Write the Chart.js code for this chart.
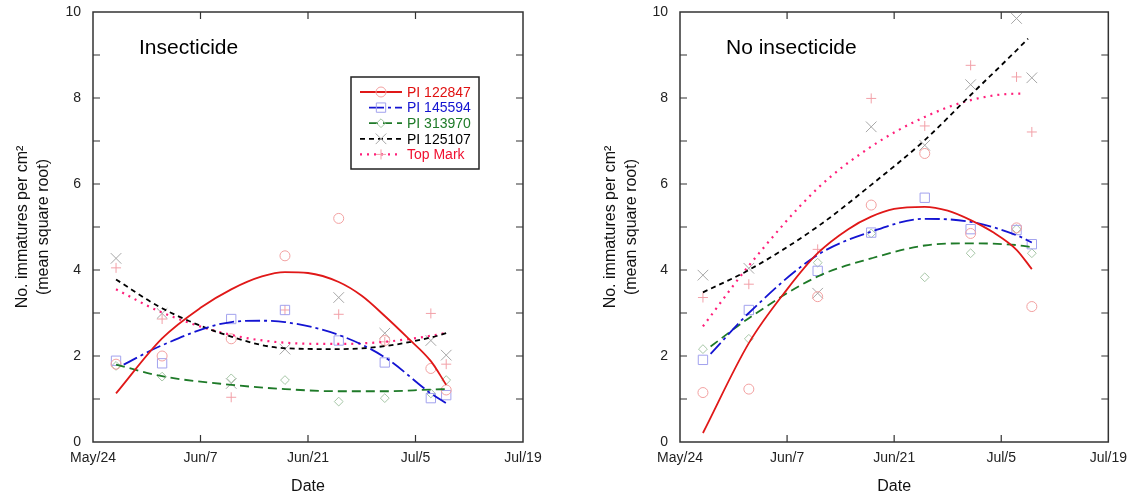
<!DOCTYPE html>
<html>
<head>
<meta charset="utf-8">
<script src="https://cdn.jsdelivr.net/npm/chart.js@4.4.1/dist/chart.umd.min.js"></script>
<style>
  html, body { margin: 0; padding: 0; background: #fff; }
  #wrap { position: relative; width: 1135px; height: 496px; }
  .panel { position: absolute; top: 0; height: 496px; }
  #left { left: 0; width: 567px; }
  #right { left: 567px; width: 568px; }
</style>
</head>
<body>
<div id="wrap">
  <div class="panel" id="left"><canvas id="chartIns"></canvas></div>
  <div class="panel" id="right"><canvas id="chartNoIns"></canvas></div>
</div>
<script>
// ==========================================
// 1. DATA (days after May/24, mean square root counts)
// ==========================================
const xTickLabels = ['May/24', 'Jun/7', 'Jun/21', 'Jul/5', 'Jul/19'];
const yTickLabels = ['0', '2', '4', '6', '8', '10'];
const seriesNames = ['PI 122847', 'PI 145594', 'PI 313970', 'PI 125107', 'Top Mark'];
const sampleDays = [3, 9, 18, 25, 32, 38, 44, 46];

// Insecticide - observed
const insPI122847 = [1.81, 2.00, 2.40, 4.33, 5.20, 2.36, 1.71, 1.21];
const insPI145594 = [1.89, 1.83, 2.86, 3.07, 2.36, 1.85, 1.02, 1.09];
const insPI313970 = [1.77, 1.52, 1.48, 1.44, 0.94, 1.02, 1.13, 1.44];
const insPI125107 = [4.27, 2.99, 1.36, 2.16, 3.36, 2.53, 2.36, 2.02];
const insTopMark = [4.05, 2.86, 1.04, 3.07, 2.97, 2.33, 2.99, 1.81];

// Insecticide - fitted curves
const insFitX = [3, 9, 18, 25, 32, 38, 44, 46];
const insFitRedX = [3, 9, 14, 18, 22, 25, 28, 32, 35, 38, 41, 44, 46];
const insFitBlueX = [4, 9, 18, 22, 25, 32, 38, 44, 46];
const insFit122847 = [1.13, 2.41, 3.12, 3.55, 3.85, 3.95, 3.93, 3.72, 3.40, 2.93, 2.42, 1.88, 1.33];
const insFit145594 = [1.80, 2.25, 2.79, 2.82, 2.79, 2.49, 1.97, 1.13, 0.90];
const insFit313970 = [1.80, 1.53, 1.33, 1.23, 1.18, 1.18, 1.22, 1.23];
const insFit125107 = [3.78, 3.11, 2.45, 2.18, 2.16, 2.23, 2.43, 2.53];
const insFitTopMark = [3.55, 3.01, 2.49, 2.31, 2.28, 2.33, 2.47, 2.54];

// No insecticide - observed
const noPI122847 = [1.15, 1.23, 3.38, 5.51, 6.71, 4.85, 4.98, 3.15];
const noPI145594 = [1.91, 3.07, 3.98, 4.87, 5.68, 4.95, 4.93, 4.60];
const noPI313970 = [2.16, 2.40, 4.17, 4.85, 3.83, 4.39, 4.95, 4.39];
const noPI125107 = [3.88, 4.04, 3.46, 7.33, 6.90, 8.31, 9.85, 8.47];
const noTopMark = [3.36, 3.67, 4.48, 7.99, 7.35, 8.76, 8.49, 7.21];

// No insecticide - fitted curves
const noFitRedX = [3, 9, 14, 18, 22, 25, 28, 32, 35, 38, 41, 44, 46];
const noFitLateX = [4, 9, 18, 25, 32, 38, 44, 46];
const noFitBlackX = [3, 9, 18, 25, 32, 38, 44, 45.5];
const noFitPinkX = [3, 9, 18, 25, 32, 38, 44, 45];
const noFit122847 = [0.21, 2.30, 3.55, 4.39, 4.95, 5.24, 5.42, 5.47, 5.38, 5.16, 4.87, 4.47, 4.02];
const noFit145594 = [2.05, 3.00, 4.35, 4.89, 5.19, 5.12, 4.81, 4.64];
const noFit313970 = [2.22, 2.88, 3.85, 4.27, 4.57, 4.62, 4.58, 4.53];
const noFit125107 = [3.48, 4.00, 5.01, 5.98, 7.02, 8.07, 9.11, 9.38];
const noFitTopMark = [2.69, 4.10, 5.90, 6.87, 7.56, 7.95, 8.10, 8.10];

// ==========================================
// 2. STYLES
// ==========================================
const FONT = '"Liberation Sans", Arial, sans-serif';
const lineColors = ['#e01818', '#1414d2', '#1e7a28', '#000000', '#ff1f7a'];
const markerColors = ['#f2a0a0', '#a2a2ee', '#a6c6a6', '#a6a6a6', '#f2a0a8'];
const textColors = ['#e01010', '#1414d0', '#1e7a28', '#000000', '#f01030'];
const pointStyles = ['circle', 'rect', 'rectRot', 'crossRot', 'cross'];
const pointRadii = [5, 6.6, 4.4, 7.5, 5];
const dashes = [[], [15, 4, 3, 4], [9, 5], [5, 4], [2, 5]];

const toPts = (xs, ys) => xs.map((x, i) => ({ x: x, y: ys[i] }));

function buildDatasets(observed, fits) {
  const sets = [];
  fits.forEach((f, i) => {
    sets.push({
      label: seriesNames[i] + ' fit',
      data: toPts(f[0], f[1]),
      showLine: true,
      borderColor: lineColors[i],
      borderWidth: i === 4 ? 2.2 : 1.8,
      borderDash: dashes[i],
      pointRadius: 0,
      cubicInterpolationMode: 'monotone',
      order: 0
    });
  });
  observed.forEach((obs, i) => {
    sets.push({
      label: seriesNames[i],
      data: toPts(sampleDays, obs),
      showLine: false,
      pointStyle: pointStyles[i],
      pointRadius: pointRadii[i],
      pointBorderColor: markerColors[i],
      pointBackgroundColor: 'rgba(0,0,0,0)',
      pointBorderWidth: 1,
      order: 1
    });
  });
  return sets;
}

// ==========================================
// 3. PLUGIN: frame, inner ticks, panel label, legend
// ==========================================
const framePlugin = {
  id: 'frame',
  afterDraw(chart, args, opts) {
    const ctx = chart.ctx;
    const ca = chart.chartArea;
    const xs = chart.scales.x, ys = chart.scales.y;
    ctx.save();
    ctx.strokeStyle = '#333';
    ctx.lineWidth = 1.5;
    ctx.strokeRect(ca.left, ca.top, ca.right - ca.left, ca.bottom - ca.top);

    // inner tick marks
    ctx.lineWidth = 1.2;
    ctx.beginPath();
    for (let v = 1; v < 10; v++) {
      const py = ys.getPixelForValue(v);
      ctx.moveTo(ca.left, py); ctx.lineTo(ca.left + 7, py);
      ctx.moveTo(ca.right, py); ctx.lineTo(ca.right - 7, py);
    }
    for (let d = 14; d < 56; d += 14) {
      const px = xs.getPixelForValue(d);
      ctx.moveTo(px, ca.bottom); ctx.lineTo(px, ca.bottom - 7);
      ctx.moveTo(px, ca.top); ctx.lineTo(px, ca.top + 7);
    }
    ctx.stroke();

    // panel label
    ctx.fillStyle = '#000';
    ctx.font = '21px ' + FONT;
    ctx.textBaseline = 'alphabetic';
    ctx.textAlign = 'left';
    ctx.fillText(opts.title, ca.left + opts.titleDx, ca.top + 42);

    // legend box
    if (opts.legend) {
      const bx = ca.left + 258, by = ca.top + 65;
      ctx.lineWidth = 1.5;
      ctx.strokeStyle = '#222';
      ctx.strokeRect(bx, by, 128, 92);
      ctx.font = '14px ' + FONT;
      ctx.textBaseline = 'middle';
      seriesNames.forEach((name, i) => {
        const ry = by + 15 + i * 15.6;
        ctx.save();
        ctx.strokeStyle = lineColors[i];
        ctx.lineWidth = i === 4 ? 2.2 : 1.8;
        ctx.setLineDash(dashes[i]);
        ctx.beginPath();
        ctx.moveTo(bx + (i === 1 || i === 2 ? 18 : 9), ry);
        ctx.lineTo(bx + 51, ry);
        ctx.stroke();
        ctx.restore();
        ctx.save();
        ctx.strokeStyle = markerColors[i];
        ctx.fillStyle = 'rgba(0,0,0,0)';
        ctx.lineWidth = 1;
        Chart.helpers.drawPoint(ctx, { pointStyle: pointStyles[i], radius: pointRadii[i], borderWidth: 1, rotation: 0 }, bx + 30, ry);
        ctx.restore();
        ctx.fillStyle = textColors[i];
        ctx.fillText(name, bx + 56, ry + 1);
      });
    }
    ctx.restore();
  }
};

// ==========================================
// 4. CHART FACTORY
// ==========================================
function makeChart(canvasId, datasets, cfg) {
  return new Chart(document.getElementById(canvasId), {
    type: 'scatter',
    data: { datasets: datasets },
    plugins: [framePlugin],
    options: {
      responsive: true,
      maintainAspectRatio: false,
      animation: false,
      layout: { padding: { top: 12, right: cfg.rightPad, left: 0, bottom: 0 } },
      plugins: {
        legend: { display: false },
        tooltip: { enabled: false },
        frame: { title: cfg.title, titleDx: cfg.titleDx, legend: cfg.legend }
      },
      scales: {
        x: {
          type: 'linear',
          min: 0, max: 56,
          grid: { display: false, drawTicks: false },
          border: { display: false },
          afterFit: (s) => { s.height = 54; },
          ticks: {
            stepSize: 14,
            padding: 8,
            color: '#222',
            font: { family: FONT, size: 14 },
            callback: (v) => xTickLabels[Math.round(v / 14)]
          },
          title: {
            display: true,
            text: 'Date',
            color: '#111',
            font: { family: FONT, size: 16 },
            padding: { top: 0, bottom: 0 }
          }
        },
        y: {
          min: 0, max: 10,
          grid: { display: false, drawTicks: false },
          border: { display: false },
          afterFit: (s) => { s.width = cfg.axisWidth; s.paddingTop = 0; s.paddingBottom = 0; },
          ticks: {
            stepSize: 1,
            autoSkip: false,
            padding: 12,
            color: '#222',
            font: { family: FONT, size: 14 },
            callback: (v) => yTickLabels.includes(String(v)) ? String(v) : ''
          },
          title: {
            display: true,
            text: ['No. immatures per cm\u00B2', '(mean square root)'],
            color: '#111',
            font: { family: FONT, size: 16, lineHeight: 1.3 },
            padding: { top: cfg.titlePad, bottom: 0 }
          }
        }
      }
    }
  });
}

makeChart('chartIns',
  buildDatasets(
    [insPI122847, insPI145594, insPI313970, insPI125107, insTopMark],
    [[insFitRedX, insFit122847], [insFitBlueX, insFit145594], [insFitX, insFit313970],
     [insFitX, insFit125107], [insFitX, insFitTopMark]]),
  { title: 'Insecticide', titleDx: 46, legend: true, axisWidth: 93, titlePad: 12, rightPad: 44 });

makeChart('chartNoIns',
  buildDatasets(
    [noPI122847, noPI145594, noPI313970, noPI125107, noTopMark],
    [[noFitRedX, noFit122847], [noFitLateX, noFit145594], [noFitLateX, noFit313970],
     [noFitBlackX, noFit125107], [noFitPinkX, noFitTopMark]]),
  { title: 'No insecticide', titleDx: 46, legend: false, axisWidth: 113, titlePad: 33, rightPad: 24 });
</script>
</body>
</html>
